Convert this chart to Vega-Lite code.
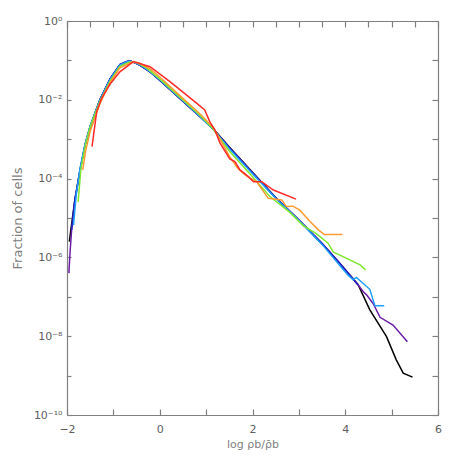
{
  "$schema": "https://vega.github.io/schema/vega-lite/v6.json",
  "width": 371,
  "height": 394,
  "autosize": {"type": "none"},
  "padding": {"left": 67, "top": 21, "right": 20, "bottom": 43},
  "background": "white",
  "config": {
    "view": {"stroke": null},
    "axis": {
      "domainColor": "#808080",
      "tickColor": "#808080",
      "labelColor": "#606060",
      "titleColor": "#808080",
      "labelFont": "DejaVu Sans",
      "titleFont": "DejaVu Sans",
      "labelFontSize": 11,
      "titleFontSize": 11,
      "titleFontWeight": "normal",
      "grid": false,
      "domainWidth": 1.2,
      "tickWidth": 1.2
    }
  },
  "data": {
    "values": [
      {"s": "black", "x": -1.95, "y": 2.51e-6}, {"s": "black", "x": -1.9, "y": 7.08e-6}, {"s": "black", "x": -1.83, "y": 2.88e-5}, {"s": "black", "x": -1.72, "y": 1.58e-4}, {"s": "black", "x": -1.61, "y": 7.08e-4}, {"s": "black", "x": -1.5, "y": 2.09e-3}, {"s": "black", "x": -1.29, "y": 1.0e-2}, {"s": "black", "x": -1.07, "y": 3.39e-2}, {"s": "black", "x": -0.86, "y": 7.76e-2}, {"s": "black", "x": -0.7, "y": 9.33e-2}, {"s": "black", "x": -0.62, "y": 9.55e-2}, {"s": "black", "x": -0.43, "y": 7.59e-2}, {"s": "black", "x": -0.2, "y": 5.01e-2}, {"s": "black", "x": 0, "y": 3.16e-2}, {"s": "black", "x": 0.44, "y": 1.07e-2}, {"s": "black", "x": 0.87, "y": 3.72e-3}, {"s": "black", "x": 1.15, "y": 1.86e-3}, {"s": "black", "x": 1.5, "y": 6.31e-4}, {"s": "black", "x": 2.0, "y": 1.45e-4}, {"s": "black", "x": 2.5, "y": 3.31e-5}, {"s": "black", "x": 3.0, "y": 8.91e-6}, {"s": "black", "x": 3.5, "y": 2.24e-6}, {"s": "black", "x": 3.88, "y": 7.08e-7}, {"s": "black", "x": 4.28, "y": 2.0e-7}, {"s": "black", "x": 4.53, "y": 4.68e-8}, {"s": "black", "x": 4.89, "y": 9.77e-9}, {"s": "black", "x": 5.1, "y": 2.51e-9}, {"s": "black", "x": 5.25, "y": 1.15e-9}, {"s": "black", "x": 5.45, "y": 9.12e-10},

      {"s": "purple", "x": -1.96, "y": 3.98e-7}, {"s": "purple", "x": -1.93, "y": 1.58e-6}, {"s": "purple", "x": -1.9, "y": 5.01e-6}, {"s": "purple", "x": -1.83, "y": 2.63e-5}, {"s": "purple", "x": -1.72, "y": 1.58e-4}, {"s": "purple", "x": -1.61, "y": 7.08e-4}, {"s": "purple", "x": -1.5, "y": 2.09e-3}, {"s": "purple", "x": -1.29, "y": 1.0e-2}, {"s": "purple", "x": -1.07, "y": 3.39e-2}, {"s": "purple", "x": -0.86, "y": 7.76e-2}, {"s": "purple", "x": -0.7, "y": 9.33e-2}, {"s": "purple", "x": -0.62, "y": 9.55e-2}, {"s": "purple", "x": -0.43, "y": 7.59e-2}, {"s": "purple", "x": -0.2, "y": 5.01e-2}, {"s": "purple", "x": 0, "y": 3.16e-2}, {"s": "purple", "x": 0.44, "y": 1.07e-2}, {"s": "purple", "x": 0.87, "y": 3.72e-3}, {"s": "purple", "x": 1.15, "y": 1.82e-3}, {"s": "purple", "x": 1.5, "y": 6.17e-4}, {"s": "purple", "x": 2.0, "y": 1.41e-4}, {"s": "purple", "x": 2.5, "y": 3.24e-5}, {"s": "purple", "x": 3.0, "y": 8.91e-6}, {"s": "purple", "x": 3.5, "y": 2.24e-6}, {"s": "purple", "x": 3.88, "y": 7.08e-7}, {"s": "purple", "x": 4.28, "y": 2.0e-7}, {"s": "purple", "x": 4.39, "y": 1.35e-7}, {"s": "purple", "x": 4.46, "y": 1.12e-7}, {"s": "purple", "x": 4.6, "y": 6.76e-8}, {"s": "purple", "x": 4.75, "y": 3.02e-8}, {"s": "purple", "x": 5.03, "y": 1.91e-8}, {"s": "purple", "x": 5.34, "y": 7.24e-9},

      {"s": "darkblue", "x": -1.9, "y": 5.01e-6}, {"s": "darkblue", "x": -1.83, "y": 3.02e-5}, {"s": "darkblue", "x": -1.72, "y": 1.66e-4}, {"s": "darkblue", "x": -1.61, "y": 7.41e-4}, {"s": "darkblue", "x": -1.5, "y": 2.14e-3}, {"s": "darkblue", "x": -1.29, "y": 1.02e-2}, {"s": "darkblue", "x": -1.07, "y": 3.47e-2}, {"s": "darkblue", "x": -0.86, "y": 7.94e-2}, {"s": "darkblue", "x": -0.7, "y": 9.55e-2}, {"s": "darkblue", "x": -0.62, "y": 9.55e-2}, {"s": "darkblue", "x": -0.43, "y": 7.59e-2}, {"s": "darkblue", "x": -0.2, "y": 5.01e-2}, {"s": "darkblue", "x": 0, "y": 3.16e-2}, {"s": "darkblue", "x": 0.44, "y": 1.07e-2}, {"s": "darkblue", "x": 0.87, "y": 3.72e-3}, {"s": "darkblue", "x": 1.15, "y": 1.82e-3}, {"s": "darkblue", "x": 1.5, "y": 6.03e-4}, {"s": "darkblue", "x": 2.0, "y": 1.38e-4}, {"s": "darkblue", "x": 2.5, "y": 3.24e-5}, {"s": "darkblue", "x": 3.0, "y": 8.91e-6}, {"s": "darkblue", "x": 3.5, "y": 2.24e-6}, {"s": "darkblue", "x": 3.88, "y": 7.08e-7}, {"s": "darkblue", "x": 4.28, "y": 2.0e-7},

      {"s": "lightblue", "x": -1.86, "y": 6.61e-6}, {"s": "lightblue", "x": -1.8, "y": 3.98e-5}, {"s": "lightblue", "x": -1.72, "y": 1.78e-4}, {"s": "lightblue", "x": -1.61, "y": 7.59e-4}, {"s": "lightblue", "x": -1.5, "y": 2.19e-3}, {"s": "lightblue", "x": -1.29, "y": 1.0e-2}, {"s": "lightblue", "x": -1.07, "y": 3.31e-2}, {"s": "lightblue", "x": -0.86, "y": 7.59e-2}, {"s": "lightblue", "x": -0.7, "y": 9.33e-2}, {"s": "lightblue", "x": -0.6, "y": 9.33e-2}, {"s": "lightblue", "x": -0.43, "y": 7.76e-2}, {"s": "lightblue", "x": -0.2, "y": 5.13e-2}, {"s": "lightblue", "x": 0, "y": 3.24e-2}, {"s": "lightblue", "x": 0.44, "y": 1.1e-2}, {"s": "lightblue", "x": 0.87, "y": 3.8e-3}, {"s": "lightblue", "x": 1.15, "y": 1.8e-3}, {"s": "lightblue", "x": 1.5, "y": 5.75e-4}, {"s": "lightblue", "x": 2.0, "y": 1.32e-4}, {"s": "lightblue", "x": 2.5, "y": 3.16e-5}, {"s": "lightblue", "x": 3.0, "y": 8.71e-6}, {"s": "lightblue", "x": 3.5, "y": 2.14e-6}, {"s": "lightblue", "x": 3.95, "y": 5.01e-7}, {"s": "lightblue", "x": 4.06, "y": 3.55e-7}, {"s": "lightblue", "x": 4.17, "y": 2.69e-7}, {"s": "lightblue", "x": 4.24, "y": 3.09e-7}, {"s": "lightblue", "x": 4.53, "y": 1.55e-7}, {"s": "lightblue", "x": 4.64, "y": 5.89e-8}, {"s": "lightblue", "x": 4.84, "y": 5.89e-8},

      {"s": "green", "x": -1.76, "y": 2.57e-5}, {"s": "green", "x": -1.7, "y": 1.78e-4}, {"s": "green", "x": -1.6, "y": 7.59e-4}, {"s": "green", "x": -1.5, "y": 2.09e-3}, {"s": "green", "x": -1.29, "y": 9.33e-3}, {"s": "green", "x": -1.07, "y": 3.02e-2}, {"s": "green", "x": -0.86, "y": 7.08e-2}, {"s": "green", "x": -0.65, "y": 9.12e-2}, {"s": "green", "x": -0.5, "y": 8.91e-2}, {"s": "green", "x": -0.3, "y": 6.61e-2}, {"s": "green", "x": 0, "y": 3.39e-2}, {"s": "green", "x": 0.44, "y": 1.15e-2}, {"s": "green", "x": 0.87, "y": 3.98e-3}, {"s": "green", "x": 1.15, "y": 1.82e-3}, {"s": "green", "x": 1.5, "y": 5.01e-4}, {"s": "green", "x": 2.0, "y": 1.12e-4}, {"s": "green", "x": 2.37, "y": 3.55e-5}, {"s": "green", "x": 2.8, "y": 1.41e-5}, {"s": "green", "x": 3.1, "y": 6.31e-6}, {"s": "green", "x": 3.37, "y": 4.07e-6}, {"s": "green", "x": 3.63, "y": 2.29e-6}, {"s": "green", "x": 3.74, "y": 1.38e-6}, {"s": "green", "x": 4.32, "y": 6.46e-7}, {"s": "green", "x": 4.44, "y": 4.79e-7},

      {"s": "orange", "x": -1.66, "y": 1.66e-4}, {"s": "orange", "x": -1.6, "y": 5.01e-4}, {"s": "orange", "x": -1.5, "y": 1.58e-3}, {"s": "orange", "x": -1.29, "y": 7.94e-3}, {"s": "orange", "x": -1.07, "y": 2.75e-2}, {"s": "orange", "x": -0.86, "y": 6.46e-2}, {"s": "orange", "x": -0.6, "y": 8.91e-2}, {"s": "orange", "x": -0.45, "y": 8.71e-2}, {"s": "orange", "x": -0.2, "y": 6.03e-2}, {"s": "orange", "x": 0, "y": 3.8e-2}, {"s": "orange", "x": 0.44, "y": 1.26e-2}, {"s": "orange", "x": 0.87, "y": 4.37e-3}, {"s": "orange", "x": 1.15, "y": 2.0e-3}, {"s": "orange", "x": 1.3, "y": 1.0e-3}, {"s": "orange", "x": 1.51, "y": 3.55e-4}, {"s": "orange", "x": 1.69, "y": 1.78e-4}, {"s": "orange", "x": 1.87, "y": 1.17e-4}, {"s": "orange", "x": 2.09, "y": 8.32e-5}, {"s": "orange", "x": 2.34, "y": 3.16e-5}, {"s": "orange", "x": 2.63, "y": 2.88e-5}, {"s": "orange", "x": 2.73, "y": 1.95e-5}, {"s": "orange", "x": 2.87, "y": 2.0e-5}, {"s": "orange", "x": 3.02, "y": 1.58e-5}, {"s": "orange", "x": 3.24, "y": 8.13e-6}, {"s": "orange", "x": 3.42, "y": 5.01e-6}, {"s": "orange", "x": 3.55, "y": 3.8e-6}, {"s": "orange", "x": 3.94, "y": 3.8e-6},

      {"s": "red", "x": -1.46, "y": 6.46e-4}, {"s": "red", "x": -1.36, "y": 5.01e-3}, {"s": "red", "x": -1.25, "y": 1.12e-2}, {"s": "red", "x": -1.07, "y": 2.51e-2}, {"s": "red", "x": -0.86, "y": 5.13e-2}, {"s": "red", "x": -0.57, "y": 9.33e-2}, {"s": "red", "x": -0.21, "y": 6.92e-2}, {"s": "red", "x": 0.22, "y": 2.88e-2}, {"s": "red", "x": 0.58, "y": 1.32e-2}, {"s": "red", "x": 0.8, "y": 8.13e-3}, {"s": "red", "x": 0.97, "y": 5.5e-3}, {"s": "red", "x": 1.08, "y": 2.75e-3}, {"s": "red", "x": 1.19, "y": 1.7e-3}, {"s": "red", "x": 1.3, "y": 7.94e-4}, {"s": "red", "x": 1.51, "y": 3.16e-4}, {"s": "red", "x": 1.62, "y": 2.69e-4}, {"s": "red", "x": 1.73, "y": 1.66e-4}, {"s": "red", "x": 1.91, "y": 1.12e-4}, {"s": "red", "x": 2.02, "y": 8.32e-5}, {"s": "red", "x": 2.2, "y": 8.32e-5}, {"s": "red", "x": 2.45, "y": 5.13e-5}, {"s": "red", "x": 2.94, "y": 3.02e-5}
    ]
  },
  "layer": [
    {
      "mark": {"type": "line", "strokeWidth": 1.5, "clip": true},
      "encoding": {
        "x": {
          "field": "x", "type": "quantitative",
          "scale": {"domain": [-2, 6], "nice": false, "zero": false},
          "axis": {
            "orient": "bottom",
            "title": "log ρb/ρ̄b",
            "titlePadding": 4,
            "values": [-2, -1.5, -1, -0.5, 0, 0.5, 1, 1.5, 2, 2.5, 3, 3.5, 4, 4.5, 5, 5.5, 6],
            "labelExpr": "datum.value % 2 == 0 ? datum.label : ''",
            "format": "d",
            "tickSize": -6,
            "labelPadding": 14,
            "labelFlush": false,
            "labelOverlap": false,
            "encode": {"ticks": {"update": {"y2": {"signal": "datum.value % 2 == 0 ? -8 : -4"}}}}
          }
        },
        "y": {
          "field": "y", "type": "quantitative",
          "scale": {"type": "log", "domain": [1e-10, 1], "nice": false},
          "axis": {
            "orient": "left",
            "title": "Fraction of cells",
            "titleFontSize": 13,
            "titlePadding": 9,
            "values": [1, 0.1, 0.01, 0.001, 0.0001, 1e-5, 1e-6, 1e-7, 1e-8, 1e-9, 1e-10],
            "labelExpr": "round(log(datum.value)/LN10) == 0 ? '10⁰' : round(log(datum.value)/LN10) == -2 ? '10⁻²' : round(log(datum.value)/LN10) == -4 ? '10⁻⁴' : round(log(datum.value)/LN10) == -6 ? '10⁻⁶' : round(log(datum.value)/LN10) == -8 ? '10⁻⁸' : round(log(datum.value)/LN10) == -10 ? '10⁻¹⁰' : ''",
            "tickSize": -4,
            "labelPadding": 9,
            "labelFlush": false,
            "labelOverlap": false,
            "encode": {"ticks": {"update": {"x2": {"signal": "round(log(datum.value)/LN10) % 2 == 0 ? 8 : 4"}}}}
          }
        },
        "color": {
          "field": "s", "type": "nominal", "legend": null,
          "scale": {
            "domain": ["black", "purple", "darkblue", "lightblue", "green", "orange", "red"],
            "range": ["#000000", "#6a1fa8", "#2020c0", "#1ea0ff", "#80e830", "#ff9a30", "#ff2a2a"]
          }
        }
      }
    },
    {
      "mark": {"type": "point", "opacity": 0},
      "encoding": {
        "x": {
          "field": "x", "type": "quantitative",
          "axis": {
            "orient": "top",
            "title": null,
            "values": [-2, -1.5, -1, -0.5, 0, 0.5, 1, 1.5, 2, 2.5, 3, 3.5, 4, 4.5, 5, 5.5, 6],
            "labels": false,
            "tickSize": -6,
            "encode": {"ticks": {"update": {"y2": {"signal": "datum.value % 2 == 0 ? 8 : 4"}}}}
          }
        },
        "y": {
          "field": "y", "type": "quantitative",
          "axis": {
            "orient": "right",
            "title": null,
            "values": [1, 0.1, 0.01, 0.001, 0.0001, 1e-5, 1e-6, 1e-7, 1e-8, 1e-9, 1e-10],
            "labels": false,
            "tickSize": -6,
            "encode": {"ticks": {"update": {"x2": {"signal": "round(log(datum.value)/LN10) % 2 == 0 ? -8 : -4"}}}}
          }
        }
      }
    }
  ],
  "resolve": {"axis": {"x": "independent", "y": "independent"}}
}
